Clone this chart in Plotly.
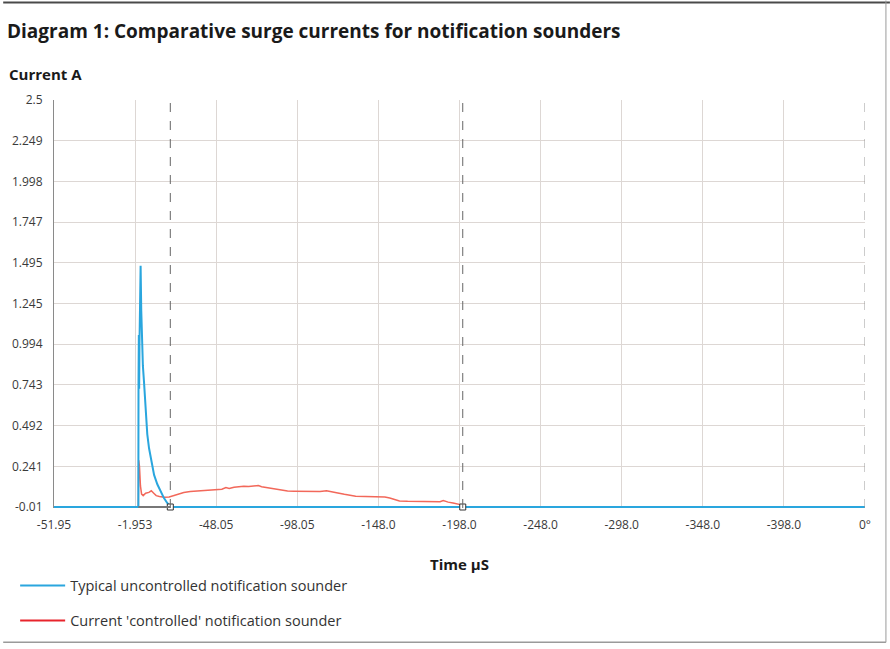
import plotly.graph_objects as go

# ---------------- data ----------------
x_tick_vals = [0, 50, 100, 150, 200, 250, 300, 350, 400, 450, 500]
x_tick_text = ["-51.95", "-1.953", "-48.05", "-98.05", "-148.0", "-198.0",
               "-248.0", "-298.0", "-348.0", "-398.0", "0°"]
y_tick_vals = [-0.01, 0.241, 0.492, 0.743, 0.994, 1.245, 1.495, 1.747, 1.998, 2.249, 2.5]
y_tick_text = ["-0.01", "0.241", "0.492", "0.743", "0.994", "1.245", "1.495",
               "1.747", "1.998", "2.249", "2.5"]

# uncontrolled sounder (blue)
blue_t = [0, 52.0, 52.1, 52.3, 52.5, 52.7, 53.0, 53.4, 53.8, 54.3, 54.8, 55.5,
          56.5, 57.5, 58.6, 60.1, 61.7, 63.7, 65.7, 67.8, 69.8, 71.2, 71.7, 500]
blue_i = [-0.01, -0.01, 0.75, 1.05, 0.72, 1.0, 1.2, 1.477, 1.2, 0.98, 0.86, 0.76,
          0.556, 0.44, 0.352, 0.26, 0.188, 0.13, 0.086, 0.045, 0.015, -0.004, -0.01, -0.01]

# controlled sounder (red)
red_t = [0, 52.0, 52.2, 52.7, 53.3, 54.0, 55.0, 56.5, 58.5, 60.0, 61.5, 63.0,
         65.0, 68.0, 71.0, 74.0, 77.0, 80.0, 84.0, 88.0, 92.0, 96.0, 100.0,
         103.5, 106.0, 108.0, 111.0, 114.0, 117.0, 120.0, 123.0, 126.0, 128.0,
         131.0, 134.0, 137.0, 140.0, 144.0, 148.0, 152.0, 158.0, 164.0, 168.0,
         171.0, 175.0, 179.0, 183.0, 186.0, 192.0, 198.0, 204.0, 207.0, 210.0,
         213.0, 218.0, 225.0, 232.0, 238.0, 240.0, 243.0, 246.0, 249.0, 250.5,
         252.0, 500]
red_i = [-0.01, -0.01, 0.28, 0.24, 0.12, 0.07, 0.06, 0.075, 0.08, 0.09, 0.075, 0.06,
         0.055, 0.05, 0.052, 0.06, 0.068, 0.08, 0.085, 0.088, 0.088, 0.09, 0.095,
         0.1, 0.11, 0.105, 0.112, 0.115, 0.118, 0.116, 0.12, 0.122, 0.115,
         0.11, 0.105, 0.098, 0.093, 0.088, 0.087, 0.086, 0.086, 0.086, 0.09,
         0.082, 0.076, 0.068, 0.062, 0.056, 0.055, 0.053, 0.052, 0.046, 0.036,
         0.027, 0.025, 0.024, 0.024, 0.022, 0.03, 0.02, 0.015, 0.01, 0.005,
         -0.008, -0.01]

cursor_times = [71.7, 252.0]
surge_start = 52.0

series_names = ["Typical uncontrolled notification sounder",
                "Current 'controlled' notification sounder"]

BLUE = "#2aa6de"
RED = "#f2685a"
RED_LEG = "#e8242c"
GRID = "#ddd7d4"
FONT = "Open Sans"

# ---------------- figure ----------------
W, H = 890, 649
L, R, T, B = 51, 25, 100, 139
pw, ph = W - L - R, H - T - B


def px(xp):
    return (xp - L) / pw


def py(yp):
    return (H - B - yp) / ph


fig = go.Figure()

fig.add_trace(go.Scatter(x=red_t, y=red_i, mode="lines",
                         line=dict(color=RED, width=1.5), showlegend=False,
                         hoverinfo="skip"))
fig.add_trace(go.Scatter(x=blue_t, y=blue_i, mode="lines",
                         line=dict(color=BLUE, width=2), showlegend=False,
                         hoverinfo="skip"))
fig.add_trace(go.Scatter(x=cursor_times, y=[-0.01] * len(cursor_times), mode="markers",
                         marker=dict(symbol="square", size=6, color="white",
                                     line=dict(color="#333333", width=1)),
                         showlegend=False, hoverinfo="skip", cliponaxis=False))

# legend entries
fig.add_trace(go.Scatter(x=[None], y=[None], mode="lines", name=series_names[0],
                         line=dict(color=BLUE, width=2), legendgroup="a"))
fig.add_trace(go.Scatter(x=[None], y=[None], mode="lines", name=series_names[1],
                         line=dict(color=RED_LEG, width=2), legendgroup="b"))

shapes = []
for ct in cursor_times:
    shapes.append(dict(type="line", xref="x", yref="paper", x0=ct, x1=ct, y0=0, y1=1,
                       line=dict(color="#666666", width=1, dash="dash")))
# right edge dashed line
shapes.append(dict(type="line", xref="x", yref="paper", x0=500, x1=500, y0=0, y1=1,
                   line=dict(color="#999999", width=1, dash="dash")))
# gray cursor bracket
shapes.append(dict(type="line", xref="x", yref="y", x0=surge_start, x1=cursor_times[0],
                   y0=-0.01, y1=-0.01, line=dict(color="#777777", width=2)))
# frame
shapes.append(dict(type="line", xref="paper", yref="paper", x0=px(0), x1=px(W),
                   y0=py(2), y1=py(2), line=dict(color="#4a4a4a", width=2)))
shapes.append(dict(type="line", xref="paper", yref="paper", x0=px(886), x1=px(886),
                   y0=py(0), y1=py(645), line=dict(color="#9a9a9a", width=1)))
shapes.append(dict(type="line", xref="paper", yref="paper", x0=px(0), x1=px(886),
                   y0=py(645), y1=py(645), line=dict(color="#9a9a9a", width=1.5)))

annotations = [
    dict(text="<b>Current A</b>", xref="paper", yref="paper", x=px(4), y=py(74),
         xanchor="left", yanchor="middle", showarrow=False,
         font=dict(family=FONT, size=15, color="#1a1a1a")),
    dict(text="<b>Time µS</b>", xref="paper", yref="paper", x=px(458), y=py(566),
         xanchor="center", yanchor="middle", showarrow=False,
         font=dict(family=FONT, size=15, color="#1a1a1a")),
]

fig.update_layout(
    width=W, height=H,
    margin=dict(l=L, r=R, t=T, b=B),
    paper_bgcolor="white", plot_bgcolor="white",
    title=dict(text="<b>Diagram 1: Comparative surge currents for notification sounders</b>",
               x=7 / W, xanchor="left", xref="container", y=1 - 31 / H, yanchor="middle",
               yref="container", font=dict(family=FONT, size=19, color="#1a1a1a")),
    shapes=shapes, annotations=annotations,
    legend=dict(x=px(12), y=py(572), xanchor="left", yanchor="top",
                font=dict(family=FONT, size=14.5, color="#333333"),
                tracegroupgap=13, itemwidth=45, bgcolor="rgba(0,0,0,0)"),
    showlegend=True,
)

fig.update_xaxes(range=[0, 500], tickvals=x_tick_vals, ticktext=x_tick_text,
                 showgrid=True, gridcolor=GRID, gridwidth=1, zeroline=False,
                 showline=False, ticks="outside", ticklen=6,
                 tickcolor="rgba(0,0,0,0)",
                 tickfont=dict(family=FONT, size=12, color="#3a3a3a"))
fig.update_yaxes(range=[-0.01 - 2.51 / 409, 2.5], tickvals=y_tick_vals, ticktext=y_tick_text,
                 showgrid=True, gridcolor=GRID, gridwidth=1, zeroline=False,
                 showline=True, linecolor="#8a8a8a", linewidth=1, ticks="",
                 ticklabelstandoff=8,
                 tickfont=dict(family=FONT, size=12, color="#3a3a3a"))

fig.write_html("out.html", config={"displayModeBar": False},
               post_script="document.body.style.margin='0';")
